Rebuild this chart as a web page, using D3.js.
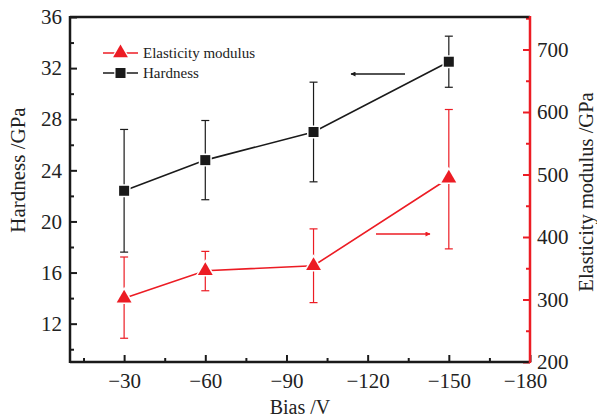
<!DOCTYPE html>
<html>
<head>
<meta charset="utf-8">
<script src="https://cdn.jsdelivr.net/npm/d3@7"></script>
<style>
  body { margin: 0; background: #fff; }
  text { font-family: "Liberation Serif", "DejaVu Serif", serif; fill: #222; }
</style>
</head>
<body>
<div id="chart"></div>
<script>
// Data
// ================================
var bias = [-30, -60, -100, -150];
var hardness = [22.4, 24.8, 27.0, 32.5];
var hardnessLow = [17.6, 21.7, 23.1, 30.5];
var hardnessHigh = [27.2, 27.9, 30.9, 34.5];
var modulus = [302, 346, 354, 494];
var modulusLow = [238, 314, 295, 381];
var modulusHigh = [368, 377, 413, 604];

var xTicks = [-30, -60, -90, -120, -150, -180];
var xMinor = [-15, -45, -75, -105, -135, -165];
var hTicks = [12, 16, 20, 24, 28, 32, 36];
var hMinor = [10, 14, 18, 22, 26, 30, 34];
var eTicks = [200, 300, 400, 500, 600, 700];
var eMinor = [250, 350, 450, 550, 650, 750];

var red = "#ec1c24";
var black = "#1a1a1a";

// Set up our chart
// ================================
var svgWidth = 597;
var svgHeight = 417;
var margin = { top: 17, right: 67, bottom: 55, left: 70 };
var width = svgWidth - margin.left - margin.right;
var height = svgHeight - margin.top - margin.bottom;

var svg = d3.select("#chart")
  .append("svg")
  .attr("width", svgWidth)
  .attr("height", svgHeight);

var chartGroup = svg.append("g")
  .attr("transform", `translate(${margin.left}, ${margin.top})`);

// Scales
var xScale = d3.scaleLinear().domain([-10, -180]).range([0, width]);
var yLeft = d3.scaleLinear().domain([9, 36]).range([height, 0]);
var yRight = d3.scaleLinear().domain([200, 752]).range([height, 0]);

// Axes (ticks pointing inward)
var bottomAxis = d3.axisBottom(xScale).tickValues(xTicks)
  .tickSize(-7).tickPadding(11).tickFormat(d => "\u2212" + Math.abs(d));
var bottomMinor = d3.axisBottom(xScale).tickValues(xMinor).tickSize(-4).tickFormat("");
var leftAxis = d3.axisLeft(yLeft).tickValues(hTicks)
  .tickSize(-7).tickPadding(8).tickFormat(d3.format("d"));
var leftMinor = d3.axisLeft(yLeft).tickValues(hMinor).tickSize(-4).tickFormat("");
var rightAxis = d3.axisRight(yRight).tickValues(eTicks)
  .tickSize(-7).tickPadding(7).tickFormat(d3.format("d"));
var rightMinor = d3.axisRight(yRight).tickValues(eMinor).tickSize(-4).tickFormat("");

function styleAxis(g, color, size) {
  g.select(".domain").remove();
  g.selectAll(".tick line").attr("stroke", color).attr("stroke-width", 2);
  g.selectAll(".tick text").style("font-size", size + "px").style("fill", "#222")
    .style("font-family", "Liberation Serif, serif");
}

var xAxisG = chartGroup.append("g").attr("transform", `translate(0, ${height})`)
  .call(bottomAxis).call(g => styleAxis(g, black, 21));
// last label sits a little left of its tick, as in the original, clear of "200"
xAxisG.selectAll(".tick text").filter(d => d === -180).attr("x", -5);
chartGroup.append("g").attr("transform", `translate(0, ${height})`)
  .call(bottomMinor).call(g => styleAxis(g, black, 21));
chartGroup.append("g").call(leftAxis).call(g => styleAxis(g, black, 21));
chartGroup.append("g").call(leftMinor).call(g => styleAxis(g, black, 21));
chartGroup.append("g").attr("transform", `translate(${width}, 0)`)
  .call(rightAxis).call(g => styleAxis(g, red, 21));
chartGroup.append("g").attr("transform", `translate(${width}, 0)`)
  .call(rightMinor).call(g => styleAxis(g, red, 21));

// Frame
chartGroup.append("line").attr("x1", 0).attr("x2", width).attr("y1", 0).attr("y2", 0)
  .attr("stroke", black).attr("stroke-width", 2.5);
chartGroup.append("line").attr("x1", 0).attr("x2", width).attr("y1", height).attr("y2", height)
  .attr("stroke", black).attr("stroke-width", 2.5);
chartGroup.append("line").attr("x1", 0).attr("x2", 0).attr("y1", -1).attr("y2", height + 1)
  .attr("stroke", black).attr("stroke-width", 2.5);
chartGroup.append("line").attr("x1", width).attr("x2", width).attr("y1", -1).attr("y2", height + 1)
  .attr("stroke", red).attr("stroke-width", 2.5);

// Build rows for the series
var hRows = bias.map((b, i) => ({ x: b, y: hardness[i], lo: hardnessLow[i], hi: hardnessHigh[i] }));
var eRows = bias.map((b, i) => ({ x: b, y: modulus[i], lo: modulusLow[i], hi: modulusHigh[i] }));

function drawSeries(rows, yScale, color, symbol, symSize) {
  var g = chartGroup.append("g");
  // error bars
  g.selectAll(".err").data(rows).enter().append("line")
    .attr("x1", d => xScale(d.x)).attr("x2", d => xScale(d.x))
    .attr("y1", d => yScale(d.lo)).attr("y2", d => yScale(d.hi))
    .attr("stroke", color).attr("stroke-width", 1.2);
  ["lo", "hi"].forEach(function(k) {
    g.selectAll(".cap-" + k).data(rows).enter().append("line")
      .attr("x1", d => xScale(d.x) - 4).attr("x2", d => xScale(d.x) + 4)
      .attr("y1", d => yScale(d[k])).attr("y2", d => yScale(d[k]))
      .attr("stroke", color).attr("stroke-width", 1.2);
  });
  // connecting line
  g.append("path").datum(rows)
    .attr("d", d3.line().x(d => xScale(d.x)).y(d => yScale(d.y)))
    .attr("fill", "none").attr("stroke", color).attr("stroke-width", 1.6);
  // markers with a white halo (gap round the symbol)
  g.selectAll(".mk").data(rows).enter().append("path")
    .attr("transform", d => `translate(${xScale(d.x)}, ${yScale(d.y)})`)
    .attr("d", d3.symbol().type(symbol).size(symSize))
    .attr("fill", color).attr("stroke", "#fff").attr("stroke-width", 3)
    .attr("paint-order", "stroke");
}

drawSeries(eRows, yRight, red, d3.symbolTriangle, 95);
drawSeries(hRows, yLeft, black, d3.symbolSquare, 100);

// Legend
var legend = svg.append("g");
[["Elasticity modulus", red, d3.symbolTriangle, 95, 53],
 ["Hardness", black, d3.symbolSquare, 100, 73]].forEach(function(item) {
  legend.append("line").attr("x1", 103).attr("x2", 138).attr("y1", item[4]).attr("y2", item[4])
    .attr("stroke", item[1]).attr("stroke-width", 1.6);
  legend.append("path").attr("transform", `translate(120.5, ${item[4]})`)
    .attr("d", d3.symbol().type(item[2]).size(item[3]))
    .attr("fill", item[1]).attr("stroke", "#fff").attr("stroke-width", 2.5)
    .attr("paint-order", "stroke");
  legend.append("text").attr("x", 143).attr("y", item[4] + 5)
    .style("font-size", "15px").text(item[0]);
});

// Arrows pointing to each axis
svg.append("defs").selectAll("marker").data([["ah-black", black], ["ah-red", red]])
  .enter().append("marker")
  .attr("id", d => d[0]).attr("viewBox", "0 0 10 10").attr("refX", 9).attr("refY", 5)
  .attr("markerWidth", 7).attr("markerHeight", 5).attr("orient", "auto")
  .attr("markerUnits", "userSpaceOnUse")
  .append("path").attr("d", "M0,0L10,5L0,10Z").attr("fill", d => d[1]);
svg.append("line").attr("x1", 405).attr("x2", 351).attr("y1", 74).attr("y2", 74)
  .attr("stroke", black).attr("stroke-width", 1.5).attr("marker-end", "url(#ah-black)");
svg.append("line").attr("x1", 376).attr("x2", 430).attr("y1", 234).attr("y2", 234)
  .attr("stroke", red).attr("stroke-width", 1.5).attr("marker-end", "url(#ah-red)");

// Axis titles
svg.append("text").attr("x", margin.left + width / 2).attr("y", 414)
  .attr("text-anchor", "middle").style("font-size", "20px").text("Bias /V");
svg.append("text").attr("transform", "translate(25, 170) rotate(-90)")
  .attr("text-anchor", "middle").style("font-size", "21px").text("Hardness /GPa");
svg.append("text").attr("transform", "translate(593, 192) rotate(-90)")
  .attr("text-anchor", "middle").style("font-size", "20.5px").text("Elasticity modulus /GPa");
</script>
</body>
</html>
